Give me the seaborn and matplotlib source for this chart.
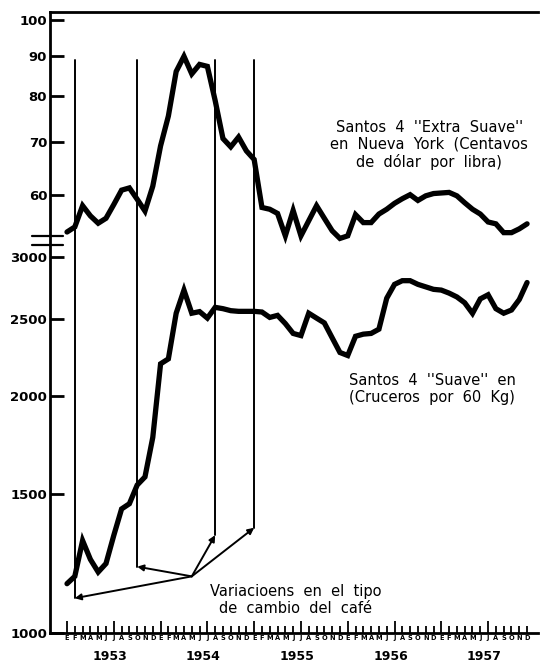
import matplotlib
matplotlib.use("Agg")
import matplotlib.pyplot as plt
import matplotlib.transforms as mtransforms
from matplotlib.ticker import NullLocator
import numpy as np
import pandas as pd
import seaborn as sns

# Month letters (Spanish) and years of the horizontal axis
month_letters = list("EFMAMJJASOND") * 5
years = [1953, 1954, 1955, 1956, 1957]

# Santos 4 "Extra Suave" en Nueva York, centavos de dolar por libra (monthly, 1953-1957)
extra_suave_ny = [
    53.8, 54.6, 58.1, 56.4, 55.2, 56.0, 58.3, 60.8, 61.2, 59.2, 57.2, 61.5,
    69.2, 75.5, 86.0, 89.9, 85.4, 87.8, 87.3, 79.0, 70.7, 69.0, 71.0, 68.2,
    66.5, 57.8, 57.5, 56.8, 53.2, 57.3, 53.2, 55.6, 58.1, 56.0, 54.0, 52.8,
    53.2, 56.6, 55.3, 55.3, 56.7, 57.5, 58.5, 59.3, 60.0, 59.0, 59.8, 60.2,
    60.3, 60.4, 59.8, 58.6, 57.5, 56.7, 55.4, 55.1, 53.7, 53.7, 54.3, 55.1,
]

# Santos 4 "Suave", cruceros por 60 kg (monthly, 1953-1957)
suave_cruceros = [
    1155, 1180, 1310, 1240, 1195, 1225, 1330, 1437, 1459, 1541, 1578, 1771,
    2196, 2228, 2546, 2724, 2546, 2558, 2510, 2590, 2580, 2565, 2560, 2560,
    2560, 2555, 2515, 2530, 2470, 2400, 2385, 2546, 2510, 2475, 2370, 2270,
    2250, 2380, 2395, 2400, 2430, 2660, 2770, 2800, 2800, 2770, 2750, 2730,
    2724, 2700, 2670, 2625, 2545, 2655, 2687, 2580, 2546, 2570, 2650, 2785,
]

# Left scale labels: lower part (cruceros) and upper part (centavos)
lower_ticks = [1000, 1500, 2000, 2500, 3000]
upper_ticks = [60, 70, 80, 90, 100]
upper_factor = 60  # upper scale is drawn on the same log axis, shifted by x60

# Exchange rate changes (month index), arrows from the label to each line
event_months = [1, 9, 19, 24]
event_bottoms = [1107, 1214, 1331, 1360]
event_top = 88.9 * upper_factor
arrow_hub = (16.0, 1180)

idx = np.arange(len(suave_cruceros))
df = pd.DataFrame({
    "mes": np.concatenate([idx, idx]),
    "valor": np.concatenate([np.array(extra_suave_ny) * upper_factor,
                             np.array(suave_cruceros, dtype=float)]),
    "serie": ["extra"] * len(idx) + ["suave"] * len(idx),
})

sns.set_style("white")
plt.rcParams["font.family"] = ["DejaVu Sans"]
plt.rcParams["text.color"] = "black"
plt.rcParams["xtick.color"] = "black"
plt.rcParams["ytick.color"] = "black"

fig = plt.figure(figsize=(5.4, 6.71), dpi=100)
ax = fig.add_axes([50 / 540, 1 - 633 / 671, 488 / 540, 621 / 671])

sns.lineplot(data=df, x="mes", y="valor", units="serie", estimator=None,
             color="black", linewidth=3.8, ax=ax, legend=False,
             solid_joinstyle="miter")

ax.set_yscale("log")
ax.set_ylim(1000, 6140)
ax.set_xlim(-2.18, 60.4)

# y ticks
ax.set_yticks(lower_ticks + [v * upper_factor for v in upper_ticks])
ax.set_yticklabels([str(v) for v in lower_ticks] + [str(v) for v in upper_ticks],
                   fontsize=9.5, fontweight="bold")
ax.yaxis.set_minor_locator(NullLocator())
ax.tick_params(axis="y", direction="in", length=10, width=2, pad=2, left=True)

# x ticks: one per month, longer at half years
ax.set_xticks(idx)
ax.set_xticklabels(month_letters, fontsize=4.8, fontweight="bold")
ax.tick_params(axis="x", direction="in", length=5, width=1.3, pad=1.5, bottom=True)
for i, t in enumerate(ax.xaxis.get_major_ticks()):
    if i % 6 == 0:
        t.tick1line.set_markersize(9)
ax.set_xlabel("")
ax.set_ylabel("")

trans = mtransforms.blended_transform_factory(ax.transData, ax.transAxes)
for k, yr in enumerate(years):
    ax.text(k * 12 + 5.5, -0.038, str(yr), transform=trans, ha="center", va="center",
            fontsize=9, fontweight="bold")

# spines
for side in ["left", "bottom", "top"]:
    ax.spines[side].set_linewidth(2)
    ax.spines[side].set_color("black")
ax.spines["right"].set_visible(False)

# axis break marks
btrans = mtransforms.blended_transform_factory(ax.transAxes, ax.transData)
for yb in [3188, 3106]:
    ax.plot([-0.037, 0.027], [yb, yb], color="black", linewidth=1.6,
            transform=btrans, clip_on=False)

# exchange rate change lines and arrows
for m, b in zip(event_months, event_bottoms):
    ax.plot([m, m], [b, event_top], color="black", linewidth=1.4)
    ax.annotate("", xy=(m, b), xytext=arrow_hub,
                arrowprops=dict(arrowstyle="-|>", color="black", lw=1.4,
                                mutation_scale=9, shrinkA=0, shrinkB=0))

# texts
ax.text(0.777, 0.786, "Santos  4  ''Extra  Suave''\nen  Nueva  York  (Centavos\nde  dólar  por  libra)",
        transform=ax.transAxes, ha="center", va="center", fontsize=10.5,
        linespacing=1.15)
ax.text(0.783, 0.393, "Santos  4  ''Suave''  en\n(Cruceros  por  60  Kg)",
        transform=ax.transAxes, ha="center", va="center", fontsize=10.5,
        linespacing=1.15)
ax.text(0.504, 0.053, "Variacioens  en  el  tipo\nde  cambio  del  café",
        transform=ax.transAxes, ha="center", va="center", fontsize=10.5,
        linespacing=1.15)

fig.savefig("out.png", dpi=100)
